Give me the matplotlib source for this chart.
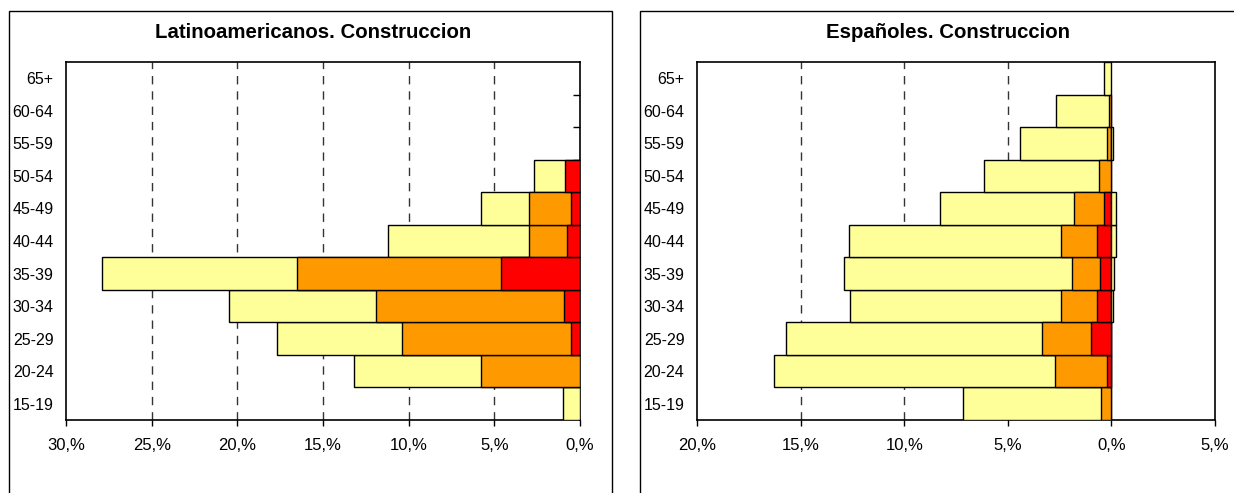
import numpy as np
import matplotlib
matplotlib.use("Agg")
import matplotlib.pyplot as plt
from matplotlib.patches import Rectangle
from matplotlib.ticker import FixedLocator, FuncFormatter

plt.rcParams['font.family'] = ['Liberation Sans', 'DejaVu Sans']

# age groups, bottom to top
ages = ['15-19', '20-24', '25-29', '30-34', '35-39', '40-44',
        '45-49', '50-54', '55-59', '60-64', '65+']

# Latinoamericanos (% , drawn to the left of zero)
lat_yellow = [1.0, 13.2, 17.7, 20.5, 27.9, 11.2, 5.8, 2.7, 0, 0, 0]
lat_orange = [0, 5.8, 10.4, 11.9, 16.5, 3.0, 3.0, 0, 0, 0, 0]
lat_red = [0, 0, 0.55, 0.95, 4.6, 0.75, 0.5, 0.9, 0, 0, 0]

# Españoles
esp_yellow = [7.14, 16.28, 15.71, 12.62, 12.92, 12.68, 8.27, 6.15, 4.39, 2.65, 0.35]
esp_orange = [0.52, 2.73, 3.34, 2.43, 1.92, 2.43, 1.80, 0.58, 0.22, 0.12, 0]
esp_red = [0, 0.19, 0.97, 0.71, 0.55, 0.71, 0.36, 0, 0, 0, 0]
esp_pos = [0, 0, 0, 0.08, 0.13, 0.2, 0.21, 0, 0.08, 0, 0]

YELLOW = '#FFFF99'
ORANGE = '#FF9900'
RED = '#FF0000'


def pyramid(ax, yellow, orange, red, xmin, xmax, grid, pos=None):
    y = np.arange(len(ages))
    for vals, col in [(yellow, YELLOW), (orange, ORANGE), (red, RED)]:
        v = np.array(vals, dtype=float)
        m = v > 0
        ax.barh(y[m], -v[m], height=1.0, left=0, color=col,
                edgecolor='black', linewidth=1.0, zorder=3)
    if pos is not None:
        v = np.array(pos, dtype=float)
        m = v > 0
        ax.barh(y[m], v[m], height=1.0, left=0, color=YELLOW,
                edgecolor='black', linewidth=1.0, zorder=3)
    ax.set_xlim(xmin, xmax)
    ax.set_ylim(-0.5, len(ages) - 0.5)
    ax.set_yticks(y)
    ax.set_yticklabels(ages)
    ax.set_xticks(np.arange(xmin, xmax + 1, 5))
    ax.xaxis.set_major_formatter(FuncFormatter(lambda v, p: f"{abs(v):.0f},%"))
    for g in grid:
        ax.axvline(g, color='#333333', linewidth=1.0,
                   linestyle=(0, (6, 5)), zorder=1)
    ax.tick_params(axis='y', which='major', left=False, right=False,
                   length=0, labelsize=11.5, pad=9)
    ax.tick_params(axis='x', direction='out', length=4, width=1,
                   labelsize=12, pad=9)
    for s in ax.spines.values():
        s.set_linewidth(1.2)
        s.set_color('black')


fig = plt.figure(figsize=(12.34, 4.93), dpi=100)
W, H = 1234.0, 493.0

ax1 = fig.add_axes([66 / W, 1 - 420 / H, (580 - 66) / W, (420 - 62) / H])
pyramid(ax1, lat_yellow, lat_orange, lat_red, -30, 0, [-25, -20, -15, -10, -5])
# category axis ticks at x=0 (right spine), pointing inwards
ax1.yaxis.set_minor_locator(FixedLocator(np.arange(len(ages) - 1) + 0.5))
ax1.tick_params(axis='y', which='minor', left=False, right=True,
                direction='in', length=5, width=1)

ax2 = fig.add_axes([697 / W, 1 - 420 / H, (1215 - 697) / W, (420 - 62) / H])
pyramid(ax2, esp_yellow, esp_orange, esp_red, -20, 5, [-15, -10, -5], pos=esp_pos)

# outer chart frames
fig.patches.append(Rectangle((8.7 / W, -0.05), (611.7 - 8.7) / W, 1.05 - 11 / H,
                             transform=fig.transFigure, fill=False,
                             edgecolor='black', linewidth=1.0))
fig.patches.append(Rectangle((640.3 / W, -0.05), (1240 - 640.3) / W, 1.05 - 11 / H,
                             transform=fig.transFigure, fill=False,
                             edgecolor='black', linewidth=1.0))

fig.text(313 / W, 1 - 32 / H, 'Latinoamericanos. Construccion',
         ha='center', va='center', fontsize=14.7, fontweight='bold')
fig.text(948 / W, 1 - 32 / H, 'Españoles. Construccion',
         ha='center', va='center', fontsize=14.7, fontweight='bold')

fig.savefig('out.png', dpi=100)
